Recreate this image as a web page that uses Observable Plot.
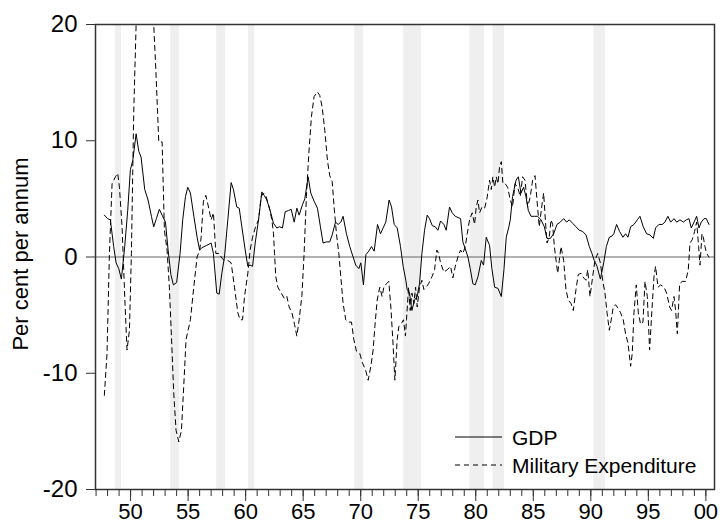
<!DOCTYPE html>
<html>
<head>
<meta charset="utf-8">
<script src="https://cdn.jsdelivr.net/npm/d3@7"></script>
<script src="https://cdn.jsdelivr.net/npm/@observablehq/plot@0.6"></script>
<style>
  html, body { margin: 0; padding: 0; background: #fff; }
  #wrap { position: relative; width: 720px; height: 527px; font-family: "Liberation Sans", Arial, sans-serif; }
  #legend { position: absolute; left: 0; top: 0; pointer-events: none; }
</style>
</head>
<body>
<div id="wrap"></div>
<script>
// ---- data ----
const gdpT = [1947.72,1948.0,1948.24,1948.53,1948.74,1948.97,1949.2,1949.49,1949.75,1949.98,1950.19,1950.48,1950.71,1950.91,1951.23,1951.52,1951.81,1952.01,1952.24,1952.5,1952.74,1953.03,1953.26,1953.5,1953.72,1954.0,1954.3,1954.53,1954.77,1954.97,1955.2,1955.5,1955.78,1956.0,1956.19,1956.62,1957.0,1957.2,1957.49,1957.7,1957.93,1958.16,1958.45,1958.74,1958.94,1959.23,1959.44,1959.67,1959.96,1960.19,1960.39,1960.6,1960.83,1961.12,1961.41,1961.61,1961.84,1962.13,1962.42,1962.71,1962.94,1963.2,1963.44,1963.73,1963.96,1964.22,1964.45,1964.65,1964.94,1965.14,1965.43,1965.66,1965.95,1966.24,1966.5,1966.73,1967.02,1967.31,1967.52,1967.81,1968.04,1968.27,1968.47,1968.76,1969.05,1969.34,1969.57,1969.84,1970.01,1970.24,1970.45,1970.7,1970.94,1971.17,1971.46,1971.72,1971.95,1972.18,1972.47,1972.68,1972.91,1973.17,1973.46,1973.69,1973.92,1974.04,1974.24,1974.45,1974.68,1974.91,1975.11,1975.32,1975.55,1975.78,1975.98,1976.22,1976.48,1976.71,1976.94,1977.23,1977.43,1977.72,1977.95,1978.22,1978.45,1978.68,1978.88,1979.09,1979.32,1979.52,1979.75,1979.95,1980.19,1980.48,1980.68,1980.91,1981.2,1981.4,1981.64,1981.93,1982.22,1982.45,1982.65,1982.88,1983.0,1983.2,1983.5,1983.7,1983.93,1984.16,1984.36,1984.57,1984.8,1985.09,1985.38,1985.67,1985.96,1986.19,1986.48,1986.77,1987.06,1987.35,1987.64,1987.9,1988.13,1988.42,1988.71,1989.0,1989.29,1989.58,1989.87,1990.1,1990.3,1990.54,1990.83,1991.12,1991.35,1991.61,1991.84,1992.0,1992.24,1992.5,1992.79,1993.02,1993.23,1993.46,1993.75,1994.04,1994.27,1994.56,1994.85,1995.14,1995.43,1995.63,1995.92,1996.21,1996.44,1996.7,1996.94,1997.23,1997.46,1997.75,1998.04,1998.3,1998.53,1998.73,1998.97,1999.2,1999.4,1999.6,1999.84,2000.04,2000.27];
const gdpV = [3.6,3.3,3.2,0.9,-0.5,-1.0,-1.9,0.9,4.0,7.5,8.3,10.6,9.1,8.6,5.8,4.9,3.5,2.6,3.3,4.1,3.6,3.0,0.6,-1.5,-2.4,-2.2,0.3,3.2,5.2,6.0,5.5,3.5,1.7,0.6,0.8,1.0,1.2,0.3,-3.1,-3.2,-1.4,0,3.2,6.4,5.8,4.3,4.2,2.6,0.6,-0.8,-0.7,-0.8,1.2,3.2,5.6,5.3,4.9,4.0,2.9,2.5,2.6,2.5,3.9,4.0,4.1,3.0,4.2,3.6,4.5,5.0,6.9,5.5,4.8,4.2,2.6,1.2,1.3,1.3,1.9,3.0,2.8,3.0,3.5,2.0,0.9,0,-0.7,-1.0,-0.5,-2.4,0.2,0.5,0.9,0.5,2.8,2.0,2.5,3.0,4.9,4.3,2.8,2.5,0.9,-0.8,-2.0,-2.8,-3.1,-4.6,-3.7,-3.4,-2.3,0.3,2.3,3.6,3.3,2.7,2.6,2.3,3.1,2.8,2.3,4.3,3.8,3.5,3.4,3.3,1.3,0.7,0,-1.0,-2.3,-2.4,-1.7,-0.3,-0.7,1.7,1.0,-1.0,-2.6,-2.7,-3.4,-1.1,1.7,2.6,3.2,5.2,6.6,6.9,5.5,6.0,5.2,4.0,3.5,3.5,3.5,3.2,2.6,1.6,1.6,2.0,2.8,3.0,3.3,3.0,3.2,2.9,2.6,2.3,2.2,1.9,0.9,0.3,-0.3,-0.8,-1.9,-0.5,0.9,1.7,1.8,2.0,2.8,2.2,1.7,2.0,1.7,2.6,2.8,3.2,3.5,2.6,2.0,1.9,1.6,2.5,2.8,2.8,3.0,3.5,3.0,3.3,3.0,3.2,3.0,3.2,3.3,2.5,3.0,3.5,2.5,3.0,3.3,3.3,2.8];

const milT = [1947.72,1947.95,1948.16,1948.39,1948.68,1948.88,1949.03,1949.26,1949.49,1949.69,1949.9,1950.07,1950.27,1950.48,1950.75,1951.0,1951.25,1951.5,1951.75,1952.01,1952.2,1952.45,1952.74,1952.94,1953.17,1953.37,1953.55,1953.75,1953.95,1954.19,1954.42,1954.62,1954.82,1955.0,1955.2,1955.49,1955.78,1956.01,1956.13,1956.33,1956.54,1956.77,1957.0,1957.2,1957.41,1957.7,1957.93,1958.16,1958.45,1958.74,1959.03,1959.32,1959.52,1959.73,1959.9,1960.19,1960.39,1960.6,1960.83,1961.12,1961.35,1961.55,1961.78,1962.04,1962.28,1962.42,1962.51,1962.62,1962.8,1963.09,1963.38,1963.58,1963.78,1964.02,1964.25,1964.45,1964.65,1964.89,1965.08,1965.28,1965.49,1965.72,1965.95,1966.24,1966.44,1966.65,1966.88,1967.11,1967.31,1967.52,1967.69,1967.89,1968.1,1968.27,1968.47,1968.7,1968.91,1969.2,1969.4,1969.63,1969.92,1970.15,1970.42,1970.65,1970.88,1971.08,1971.23,1971.43,1971.66,1971.86,1972.01,1972.24,1972.44,1972.62,1972.79,1972.97,1973.17,1973.31,1973.55,1973.72,1973.89,1973.98,1974.16,1974.3,1974.45,1974.62,1974.77,1974.91,1975.11,1975.32,1975.49,1975.69,1975.9,1976.19,1976.42,1976.62,1976.77,1976.94,1977.23,1977.52,1977.81,1978.01,1978.22,1978.45,1978.68,1978.88,1979.09,1979.26,1979.46,1979.69,1979.9,1980.04,1980.19,1980.33,1980.54,1980.77,1980.97,1981.2,1981.35,1981.49,1981.64,1981.78,1981.93,1982.07,1982.22,1982.36,1982.56,1982.77,1983.0,1983.2,1983.41,1983.64,1983.87,1984.07,1984.28,1984.51,1984.74,1984.94,1985.15,1985.32,1985.52,1985.73,1985.9,1986.05,1986.19,1986.39,1986.54,1986.68,1986.83,1987.12,1987.26,1987.41,1987.64,1987.84,1988.04,1988.28,1988.48,1988.71,1988.91,1989.15,1989.38,1989.58,1989.73,1989.93,1990.16,1990.36,1990.6,1990.83,1991.03,1991.23,1991.41,1991.61,1991.81,1991.95,1992.15,1992.36,1992.59,1992.82,1993.02,1993.23,1993.46,1993.6,1993.75,1993.95,1994.13,1994.33,1994.53,1994.71,1994.91,1995.11,1995.31,1995.49,1995.63,1995.84,1996.07,1996.36,1996.59,1996.85,1997.02,1997.23,1997.37,1997.52,1997.72,1997.95,1998.24,1998.47,1998.62,1998.82,1999.02,1999.2,1999.37,1999.49,1999.66,1999.78,1999.92,2000.07,2000.27];
const milV = [-11.9,-8.3,0.3,6.3,6.9,7.2,6.0,2.6,-3.4,-8.0,-6.3,0.3,12.3,20,20,20,20,20,20,20,16,9.9,9.9,2.3,0.6,-2.6,-6.8,-11.7,-14.9,-15.9,-14.9,-11.1,-7.1,-6.3,-5.4,-2.6,0,0.6,1.7,4.8,5.3,4.3,3.2,3.8,0.3,0.3,-0.1,-0.3,-0.3,-0.5,-2.6,-4.8,-5.4,-5.4,-3.4,-1.4,0.6,1.7,2.5,3.2,5.2,5.5,5.2,4.3,3.2,2.0,0.3,-1.7,-2.6,-3.1,-3.6,-3.4,-4.3,-4.8,-5.8,-6.8,-5.4,-3.3,0.3,5.2,8.9,12.1,13.8,14.2,13.9,12.9,10.9,8.3,7.0,6.5,4.3,2.0,0.3,-1.7,-4.0,-5.4,-5.6,-5.6,-7.1,-8.1,-8.3,-9.1,-9.7,-10.6,-9.4,-8.0,-6.0,-3.7,-2.6,-3.4,-2.6,-2.3,-2.1,-4.3,-7.1,-10.6,-7.1,-6.0,-5.7,-5.4,-6.8,-5.4,-2.6,-4.6,-3.1,-4.0,-2.6,-4.3,-2.6,-2.0,-2.8,-2.6,-2.3,-1.7,-1.1,0.6,0.3,-0.5,-1.3,-1.1,-0.8,-1.8,-0.8,0,0.6,0.3,0.9,2.0,3.2,3.8,2.8,4.3,4.9,3.8,4.3,4.2,5.0,6.6,5.8,6.9,6.0,6.9,6.3,7.8,8.2,6.3,6.3,6.0,4.9,4.3,6.3,6.0,5.2,6.9,6.6,4.3,5.2,6.6,7.0,4.9,2.6,4.3,5.5,3.2,1.2,1.7,3.2,2.8,0.9,-1.4,-0.3,0.9,-0.3,-2.8,-3.7,-4.0,-4.6,-2.8,-1.5,-1.4,-1.8,-2.0,-1.1,-3.4,-1.7,-0.3,0.3,-0.5,-2.0,-3.1,-4.8,-6.3,-5.2,-4.3,-4.1,-4.4,-4.8,-5.4,-6.6,-7.4,-9.4,-8.3,-4.8,-2.4,-4.8,-5.8,-5.6,-2.1,-3.4,-8.0,-4.6,-1.7,-0.8,-2.6,-2.4,-2.6,-3.1,-4.3,-4.6,-3.4,-4.6,-6.6,-2.3,-2.1,-2.1,-1.1,1.2,1.5,2.2,3.0,0.9,-0.7,2.0,1.7,0.9,0.3,0];

const recStart = [1948.70,1953.48,1957.48,1960.26,1969.48,1973.74,1979.50,1981.50,1990.26];
const recEnd   = [1949.20,1954.26,1958.26,1960.78,1970.26,1975.28,1980.75,1982.50,1991.28];

const yTicks = [-20,-10,0,10,20];
const majorYears = [1950,1955,1960,1965,1970,1975,1980,1985,1990,1995,2000];
const majorLabels = ["50","55","60","65","70","75","80","85","90","95","00"];
const minorYears = d3.range(1947, 2001);

const seriesNames = ["GDP","Military Expenditure"];
const yLabel = "Per cent per annum";

// ---- build tables ----
const gdp = gdpT.map((t,i)=>({t, v:gdpV[i]}));
const mil = milT.map((t,i)=>({t, v:milV[i]}));
const recs = recStart.map((s,i)=>({s, e:recEnd[i]}));

const FONT = '"Liberation Sans", Arial, Helvetica, sans-serif';

const chart = Plot.plot({
  width: 720,
  height: 527,
  marginLeft: 95,
  marginRight: 6,
  marginTop: 24,
  marginBottom: 38,
  style: {fontFamily: FONT, background: "white", color: "black"},
  x: {domain: [1946.95, 2000.75]},
  y: {domain: [-20, 20]},
  marks: [
    Plot.rect(recs, {x1: "s", x2: "e", fill: "#efefef"}),
    Plot.ruleY([0], {stroke: "#666", strokeWidth: 1.2}),
    Plot.line(gdp, {x: "t", y: "v", stroke: "black", strokeWidth: 1}),
    Plot.line(mil, {x: "t", y: "v", stroke: "black", strokeWidth: 1, strokeDasharray: "5,4"}),
    Plot.frame({stroke: "#333", strokeWidth: 1.5}),
    Plot.axisY(yTicks, {tickSize: 9, tickPadding: 9, fontSize: 24, label: null, stroke: "#333", tickFormat: d => String(d)}),
    Plot.axisX(minorYears, {tickSize: 7, tickFormat: () => "", label: null, stroke: "#333"}),
    Plot.axisX(majorYears, {tickSize: 12, tickPadding: 2, fontSize: 22, label: null, stroke: "#333",
      tickFormat: d => majorLabels[majorYears.indexOf(d)]}),
    Plot.text([yLabel], {frameAnchor: "left", textAnchor: "middle", lineAnchor: "middle", rotate: -90, dx: -75, dy: -3, fontSize: 22, fill: "black"})
  ]
});

const wrap = document.getElementById("wrap");
wrap.appendChild(chart);

// ---- legend overlay ----
const NS = "http://www.w3.org/2000/svg";
const leg = document.createElementNS(NS, "svg");
leg.setAttribute("id", "legend");
leg.setAttribute("width", 720);
leg.setAttribute("height", 527);
const rows = [
  {name: seriesNames[0], dash: null, y: 437},
  {name: seriesNames[1], dash: "5,4", y: 465}
];
rows.forEach(r => {
  const ln = document.createElementNS(NS, "line");
  ln.setAttribute("x1", 455); ln.setAttribute("x2", 502);
  ln.setAttribute("y1", r.y); ln.setAttribute("y2", r.y);
  ln.setAttribute("stroke", "black"); ln.setAttribute("stroke-width", 1);
  if (r.dash) ln.setAttribute("stroke-dasharray", r.dash);
  leg.appendChild(ln);
  const tx = document.createElementNS(NS, "text");
  tx.setAttribute("x", 512); tx.setAttribute("y", r.y + 7.5);
  tx.setAttribute("font-size", 21);
  tx.setAttribute("font-family", FONT);
  tx.setAttribute("fill", "black");
  tx.textContent = r.name;
  leg.appendChild(tx);
});
wrap.appendChild(leg);
</script>
</body>
</html>
